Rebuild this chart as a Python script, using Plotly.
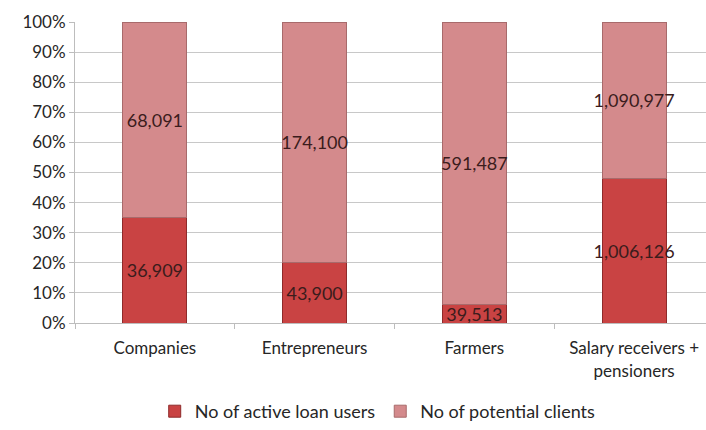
import plotly.graph_objects as go

# Client groups and counts
categories = ["Companies", "Entrepreneurs", "Farmers", "Salary receivers +<br>pensioners"]
active_loan_users = [36909, 43900, 39513, 1006126]
potential_clients = [68091, 174100, 591487, 1090977]
y_ticks = list(range(0, 101, 10))
y_tick_labels = [f"{t}%" for t in y_ticks]

FONT = "Lato, 'Open Sans', sans-serif"
LABEL_COLOR = "#3b1c1c"
TEXT_COLOR = "#262626"


def bar_trace(name, values, fill, edge):
    return go.Bar(
        name=name,
        x=categories,
        y=values,
        text=[f"{v:,}" for v in values],
        textposition="inside",
        insidetextanchor="middle",
        textangle=0,
        constraintext="none",
        textfont=dict(family=FONT, size=18, color=LABEL_COLOR),
        marker=dict(color=fill, line=dict(color=edge, width=1)),
        width=0.4,
        cliponaxis=False,
    )


fig = go.Figure()
fig.add_trace(bar_trace("No of active loan users", active_loan_users, "#c94343", "#8e2a2a"))
fig.add_trace(bar_trace("No of potential clients", potential_clients, "#d48a8c", "#a86a6b"))

fig.update_layout(
    barmode="stack",
    barnorm="percent",
    width=706,
    height=430,
    margin=dict(l=75, r=0, t=22, b=107),
    paper_bgcolor="white",
    plot_bgcolor="white",
    font=dict(family=FONT, size=17, color=TEXT_COLOR),
    uniformtext=dict(mode="show", minsize=10),
    showlegend=True,
    legend=dict(
        orientation="h",
        x=0.535, xanchor="center", xref="container",
        y=0.0, yanchor="bottom", yref="container",
        font=dict(family=FONT, size=18, color=TEXT_COLOR),
        itemwidth=30,
        traceorder="normal",
    ),
    xaxis=dict(
        range=[-0.5, 3.45],
        automargin=False,
        showgrid=False,
        showline=True,
        linecolor="#bdbdbd",
        ticks="outside",
        tickson="boundaries",
        ticklen=5,
        tickcolor="#bdbdbd",
        ticklabelstandoff=10,
        tickfont=dict(family=FONT, size=17, color=TEXT_COLOR),
    ),
    yaxis=dict(
        range=[0, 100],
        automargin=False,
        tickvals=y_ticks,
        ticktext=y_tick_labels,
        showgrid=True,
        gridcolor="#c8c8c8",
        gridwidth=1,
        showline=True,
        linecolor="#bdbdbd",
        ticks="outside",
        ticklen=5,
        tickcolor="#bdbdbd",
        tickfont=dict(family=FONT, size=17, color=TEXT_COLOR),
        zeroline=False,
    ),
)

fig.write_html("out.html")
